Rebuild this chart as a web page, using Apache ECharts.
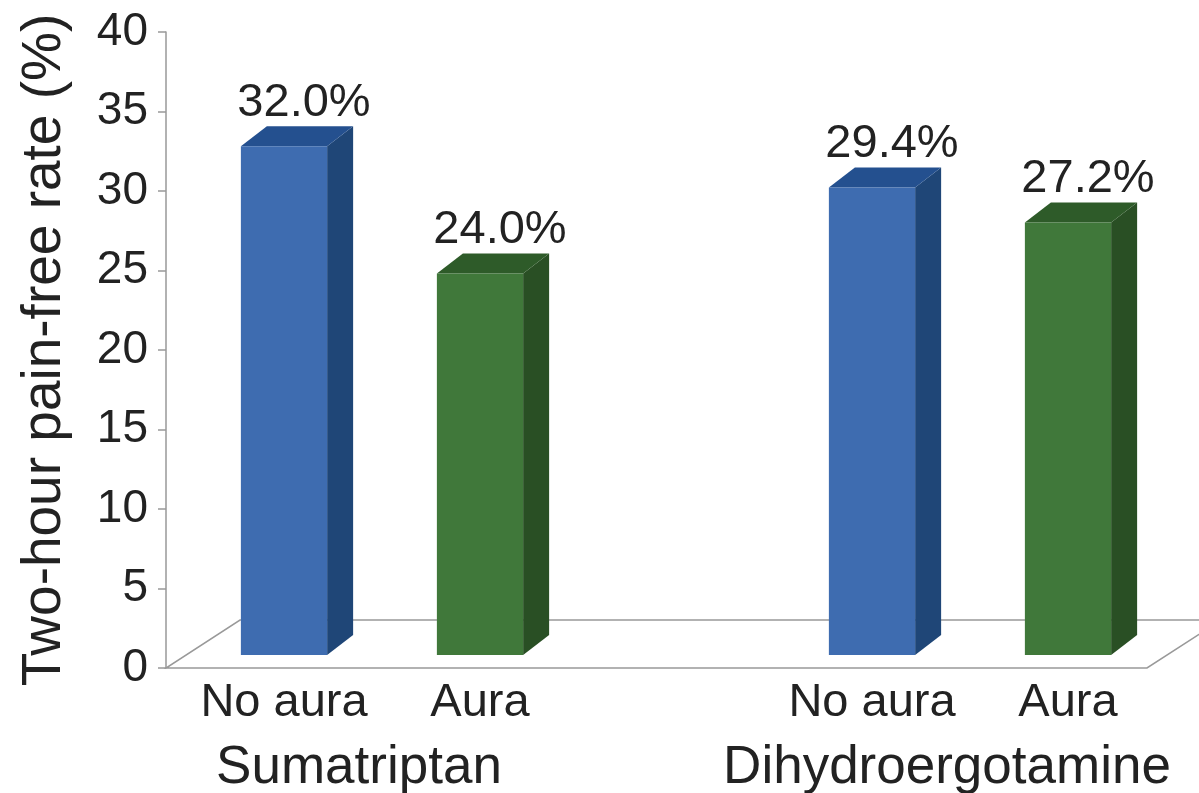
<!DOCTYPE html>
<html>
<head>
<meta charset="utf-8">
<script src="https://cdn.jsdelivr.net/npm/echarts@6/dist/echarts.min.js"></script>
<style>
  html, body { margin: 0; padding: 0; background: #fff; }
  #chart { width: 1199px; height: 793px; }
</style>
</head>
<body>
<div id="chart"></div>
<script>
// slots on the x axis: two bars per drug, one empty slot between drugs
var categories = ["No aura", "Aura", "", "No aura", "Aura"];
var groups = ["Sumatriptan", "Dihydroergotamine"];
var noAura = [32.0, 29.4];
var aura = [24.0, 27.2];
var yMin = 0, yMax = 40, yStep = 5;

var FONT = "'Liberation Sans', Arial, sans-serif";
var LIFT = 13;      // bars stand a bit back on the floor
var DX = 26, DY = -20; // depth of each bar

var blue = { front: "#3e6cb0", top: "#24508f", side: "#1f4677" };
var green = { front: "#40783a", top: "#2e5b29", side: "#294f24" };

function toData(vals, offset) {
  return vals.map(function (v, i) { return [i * 3 + offset, v]; });
}

function makeRender(pal) {
  return function (params, api) {
    var v = api.value(1);
    var base = api.coord([api.value(0), 0]);
    var top = api.coord([api.value(0), v]);
    var w = api.size([1, 0])[0] * 0.44;
    var x0 = base[0] - w / 2, x1 = base[0] + w / 2;
    var yb = base[1] - LIFT, yt = top[1] - LIFT;
    return {
      type: "group",
      children: [
        { type: "polygon", shape: { points: [[x1, yb], [x1 + DX, yb + DY], [x1 + DX, yt + DY], [x1, yt]] },
          style: { fill: pal.side } },
        { type: "polygon", shape: { points: [[x0, yt], [x1, yt], [x1 + DX, yt + DY], [x0 + DX, yt + DY]] },
          style: { fill: pal.top } },
        { type: "rect", shape: { x: x0, y: yt, width: w, height: yb - yt },
          style: { fill: pal.front } },
        { type: "text", x: base[0] + 20, y: yt - 20,
          style: { text: v.toFixed(1) + "%", fill: "#222", font: "47px " + FONT,
                   align: "center", verticalAlign: "bottom" } }
      ]
    };
  };
}

var chart = echarts.init(document.getElementById("chart"));

var option = {
  animation: false,
  grid: { left: 186, right: 33, top: 32, bottom: 125, containLabel: false, outerBoundsMode: "none" },
  xAxis: {
    type: "category",
    data: categories,
    axisLine: { show: false },
    axisTick: { show: false },
    axisLabel: { color: "#222", fontSize: 47, fontFamily: FONT, margin: 12, interval: 0 }
  },
  yAxis: {
    type: "value",
    min: yMin, max: yMax, interval: yStep,
    offset: 20,
    name: "Two-hour pain-free rate (%)",
    nameLocation: "middle",
    nameGap: 94,
    nameRotate: 90,
    nameTextStyle: { color: "#222", fontSize: 55, fontFamily: FONT },
    axisLine: { show: true, lineStyle: { color: "#999", width: 1.5 } },
    axisTick: { show: true, length: 8, lineStyle: { color: "#999", width: 1.5 } },
    axisLabel: { color: "#222", fontSize: 46, fontFamily: FONT, margin: 18 },
    splitLine: { show: false }
  },
  series: [
    { name: "No aura", type: "custom", renderItem: makeRender(blue), data: toData(noAura, 0), z: 3 },
    { name: "Aura", type: "custom", renderItem: makeRender(green), data: toData(aura, 1), z: 3 }
  ]
};
chart.setOption(option);

// floor of the 3D plot and the drug names under each pair
var first = chart.convertToPixel({ gridIndex: 0 }, [0, 0]);
var last = chart.convertToPixel({ gridIndex: 0 }, [4, 0]);
var axisX = first[0] - 98 - 20, floorY = first[1];
var floor = {
  type: "polyline",
  z: 0,
  shape: { points: [[axisX + 74 + 1000, floorY - 48], [axisX + 74, floorY - 48], [axisX, floorY],
                    [last[0] + 79, floorY], [last[0] + 79 + 74, floorY - 48]] },
  style: { stroke: "#999", lineWidth: 1.5, fill: null }
};
var labels = groups.map(function (g, i) {
  var a = chart.convertToPixel({ xAxisIndex: 0 }, i * 3);
  var b = chart.convertToPixel({ xAxisIndex: 0 }, i * 3 + 1);
  return {
    type: "text", z: 5,
    x: (a + b) / 2 - 23, y: 768,
    style: { text: g, fill: "#222", font: "53px " + FONT, align: "center", verticalAlign: "middle" }
  };
});
chart.setOption({ graphic: [floor].concat(labels) });
</script>
</body>
</html>
